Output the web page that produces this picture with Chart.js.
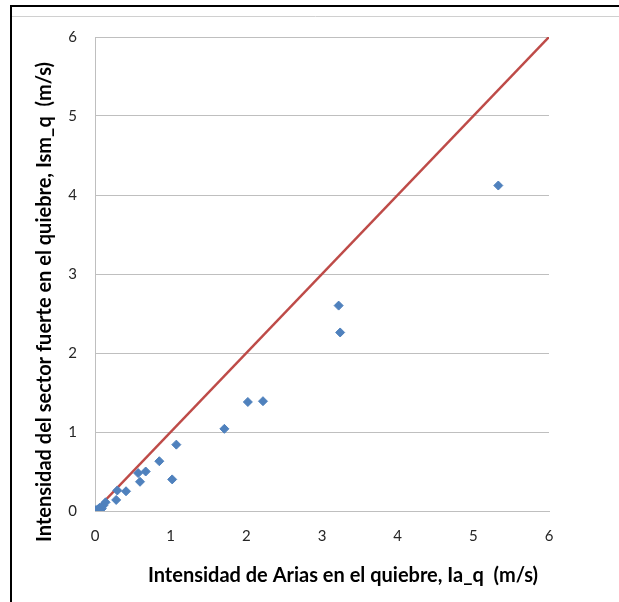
<!DOCTYPE html>
<html lang="es">
<head>
    <meta charset="UTF-8">
    <title>Ism_q vs Ia_q</title>
    <style>
        body {
            margin: 0;
            padding: 0;
            background-color: #ffffff;
        }
        .wrap {
            width: 619px;
            height: 602px;
            position: relative;
        }
    </style>
</head>
<body>
    <div class="wrap">
        <canvas id="scatterChart" width="619" height="602"></canvas>
    </div>

    <script src="https://cdn.jsdelivr.net/npm/chart.js"></script>
    <script>
        // Ia_q (m/s) and Ism_q (m/s)
        const iaValues = [0.01, 0.035, 0.06, 0.09, 0.11, 0.14, 0.28, 0.295, 0.41, 0.57, 0.595, 0.67, 0.85, 1.02, 1.075, 1.71, 2.02, 2.22, 3.22, 3.24, 5.33];
        const ismValues = [0.01, 0.02, 0.04, 0.03, 0.07, 0.11, 0.14, 0.26, 0.25, 0.48, 0.37, 0.50, 0.63, 0.40, 0.84, 1.04, 1.38, 1.39, 2.60, 2.26, 4.12];
        // 1:1 reference line
        const lineX = [0, 6];
        const lineY = [0, 6];
        const tickValues = [0, 1, 2, 3, 4, 5, 6];

        const xTitle = 'Intensidad de Arias en el quiebre, Ia_q  (m/s)';
        const yTitle = 'Intensidad del sector fuerte en el quiebre, Ism_q  (m/s)';

        const framePlugin = {
            id: 'frame',
            beforeDraw(chart) {
                const ctx = chart.ctx;
                ctx.save();
                ctx.fillStyle = '#ffffff';
                ctx.fillRect(0, 0, chart.width, chart.height);
                // light inner line under the top border
                ctx.strokeStyle = '#d0d0d0';
                ctx.lineWidth = 1;
                ctx.beginPath();
                ctx.moveTo(12, 16.5);
                ctx.lineTo(chart.width, 16.5);
                ctx.stroke();
                // black outer frame (top and left)
                ctx.strokeStyle = '#000000';
                ctx.lineWidth = 2;
                ctx.beginPath();
                ctx.moveTo(chart.width, 6);
                ctx.lineTo(11, 6);
                ctx.lineTo(11, chart.height);
                ctx.stroke();
                ctx.restore();
            },
            afterDraw(chart) {
                const ctx = chart.ctx;
                ctx.save();
                ctx.fillStyle = '#000000';
                ctx.font = 'bold 20px Lato, "Open Sans", sans-serif';
                ctx.textAlign = 'center';
                ctx.textBaseline = 'middle';
                ctx.fillText(xTitle, 343, 576);
                ctx.translate(45, 302);
                ctx.rotate(-Math.PI / 2);
                ctx.fillText(yTitle, 0, 0);
                ctx.restore();
            }
        };

        const points = iaValues.map((x, i) => ({ x: x, y: ismValues[i] }));
        const linePoints = lineX.map((x, i) => ({ x: x, y: lineY[i] }));

        const ctx = document.getElementById('scatterChart').getContext('2d');
        new Chart(ctx, {
            type: 'scatter',
            data: {
                datasets: [{
                    label: 'Ism_q',
                    data: points,
                    pointStyle: 'rectRot',
                    pointRadius: 4.5,
                    backgroundColor: '#4F81BD',
                    borderColor: '#4F81BD',
                    borderWidth: 1,
                    order: 1
                }, {
                    type: 'line',
                    label: '1:1',
                    data: linePoints,
                    borderColor: '#BE4B48',
                    borderWidth: 2.5,
                    pointRadius: 0,
                    fill: false,
                    order: 2
                }]
            },
            options: {
                responsive: false,
                animation: false,
                layout: {
                    padding: { left: 14, top: 37, right: 70, bottom: 0 }
                },
                plugins: {
                    legend: { display: false },
                    tooltip: { enabled: false }
                },
                scales: {
                    x: {
                        type: 'linear',
                        min: 0,
                        max: 6,
                        afterFit: (scale) => { scale.height = 91; },
                        afterBuildTicks: (scale) => { scale.ticks = tickValues.map(v => ({ value: v })); },
                        grid: { display: false, drawTicks: false },
                        border: { display: true, color: '#BFBFBF' },
                        ticks: {
                            padding: 16,
                            color: '#262626',
                            font: { family: 'Lato, "Open Sans", sans-serif', size: 15 }
                        }
                    },
                    y: {
                        type: 'linear',
                        min: 0,
                        max: 6,
                        afterFit: (scale) => { scale.width = 81; },
                        afterBuildTicks: (scale) => { scale.ticks = tickValues.map(v => ({ value: v })); },
                        grid: { color: '#BFBFBF', drawTicks: false },
                        border: { display: true, color: '#BFBFBF' },
                        ticks: {
                            padding: 18,
                            color: '#262626',
                            font: { family: 'Lato, "Open Sans", sans-serif', size: 15 }
                        }
                    }
                }
            },
            plugins: [framePlugin]
        });
    </script>
</body>
</html>
